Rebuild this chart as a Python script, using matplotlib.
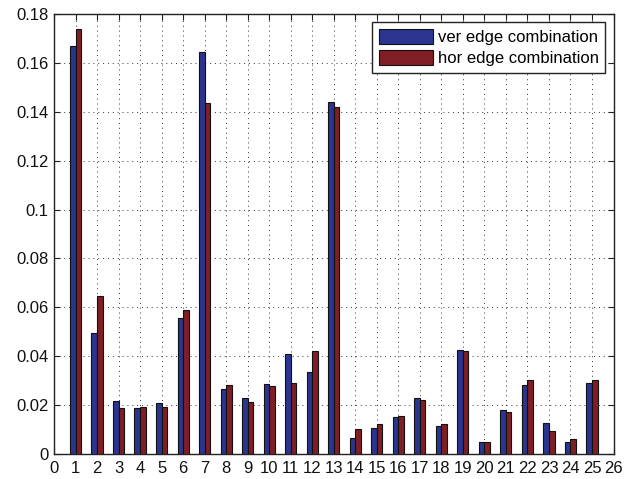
import matplotlib
matplotlib.use("Agg")
import matplotlib.pyplot as plt
import numpy as np

categories = list(range(1, 26))
ver_edge = [0.167, 0.0495, 0.0217, 0.0187, 0.0209, 0.0558, 0.1644, 0.0266, 0.0228, 0.0285,
            0.0409, 0.0337, 0.1439, 0.0065, 0.0108, 0.0151, 0.0230, 0.0116, 0.0427, 0.0050,
            0.0181, 0.0284, 0.0126, 0.0050, 0.0292]
hor_edge = [0.174, 0.0646, 0.0187, 0.0191, 0.0191, 0.0588, 0.1435, 0.0284, 0.0214, 0.0280,
            0.0291, 0.0423, 0.1420, 0.0104, 0.0121, 0.0154, 0.0222, 0.0121, 0.0420, 0.0050,
            0.0173, 0.0303, 0.0095, 0.0063, 0.0303]
labels = ["ver edge combination", "hor edge combination"]

plt.rcParams['font.family'] = ['Liberation Sans', 'DejaVu Sans']

fig = plt.figure(figsize=(6.38, 4.79), dpi=100)
ax = fig.add_axes([54/638, 1-454/479, (613.5-54)/638, 440/479])

x = np.array(categories)
w = 0.26
ax.bar(x - w/2, ver_edge, width=w, color='#2b3590', edgecolor='#111111', linewidth=0.8,
       label=labels[0], zorder=3)
ax.bar(x + w/2, hor_edge, width=w, color='#7f1e24', edgecolor='#111111', linewidth=0.8,
       label=labels[1], zorder=3)

ax.set_xlim(0, 26)
ax.set_ylim(0, 0.18)
ax.set_xticks(range(0, 27))
ax.set_yticks(np.arange(0, 0.181, 0.02))
ax.set_yticklabels(['0', '0.02', '0.04', '0.06', '0.08', '0.1', '0.12', '0.14', '0.16', '0.18'])
ax.tick_params(direction='in', top=True, right=True, labelsize=12, length=4.5, width=0.8,
               colors='#222222', labelcolor='#111111')
ax.tick_params(axis='x', pad=5)
ax.tick_params(axis='y', pad=4)
ax.grid(True, linestyle=(0, (1, 4)), color='#333333', linewidth=0.7, zorder=0)
for s in ax.spines.values():
    s.set_linewidth(1.0)
    s.set_color('#222222')

leg = ax.legend(loc='upper right', fontsize=12, fancybox=False, framealpha=1,
                edgecolor='#222222', handlelength=3.25, handleheight=1.0,
                handletextpad=0.3, labelspacing=0.33, borderpad=0.38,
                borderaxespad=0.5)
leg.get_frame().set_linewidth(1.0)
leg.set_zorder(5)

fig.savefig('out.png', dpi=100)
